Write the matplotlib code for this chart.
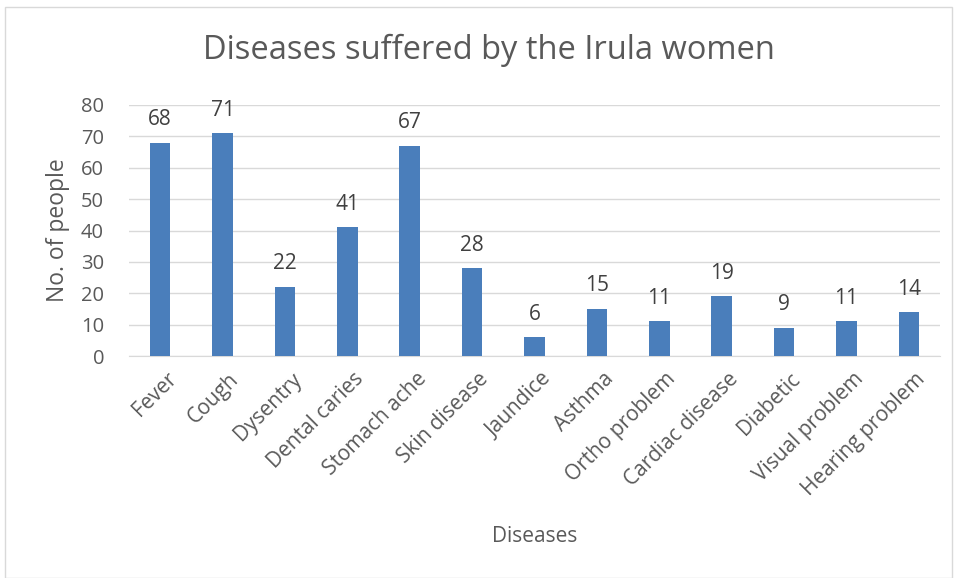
import matplotlib
matplotlib.use("Agg")
import matplotlib.pyplot as plt
import matplotlib.transforms as mtransforms
from matplotlib.patches import Rectangle

categories = ["Fever", "Cough", "Dysentry", "Dental caries", "Stomach ache",
              "Skin disease", "Jaundice", "Asthma", "Ortho problem",
              "Cardiac disease", "Diabetic", "Visual problem", "Hearing problem"]
values = [68, 71, 22, 41, 67, 28, 6, 15, 11, 19, 9, 11, 14]
yticks = [0, 10, 20, 30, 40, 50, 60, 70, 80]

plt.rcParams['font.family'] = ['Open Sans', 'DejaVu Sans']
txt = "#595959"

fig = plt.figure(figsize=(9.55, 5.78), dpi=100)
W, H = 955, 578
ax = fig.add_axes([129 / W, 1 - 356 / H, (940 - 129) / W, (356 - 105) / H])

x = list(range(len(categories)))
bars = ax.bar(x, values, width=0.33, color="#4A7EBB", zorder=3)
for xi, v in zip(x, values):
    ax.text(xi, v + 4, str(v), ha="center", va="bottom", fontsize=15, color="#404040")

ax.set_xlim(-0.5, len(categories) - 0.5)
ax.set_ylim(0, 80)
ax.set_yticks(yticks)
ax.set_yticklabels([str(t) for t in yticks], fontsize=14.5, color=txt)
ax.yaxis.grid(True, color="#D9D9D9", linewidth=1, zorder=0)
ax.tick_params(axis="y", length=0, pad=18)
ax.tick_params(axis="x", length=0, pad=9)
ax.set_xticks(x)
ax.set_xticklabels(categories, rotation=45, ha="right", rotation_mode="anchor",
                   fontsize=15, color=txt)
offset = mtransforms.ScaledTranslation(6 / 100, 0, fig.dpi_scale_trans)
for lab in ax.get_xticklabels():
    lab.set_transform(lab.get_transform() + offset)
for s in ["top", "right", "left"]:
    ax.spines[s].set_visible(False)
ax.spines["bottom"].set_color("#D9D9D9")

ax.set_ylabel("No. of people", fontsize=16.5, color=txt, labelpad=8)
fig.text(535 / W, 1 - 536 / H, "Diseases", ha="center", va="center", fontsize=15, color=txt)
fig.text(489 / W, 1 - 50 / H, "Diseases suffered by the Irula women", ha="center",
         va="center", fontsize=23.5, color=txt)

fig.patches.append(Rectangle((5 / W, 0), (W - 8) / W, 1 - 7 / H, transform=fig.transFigure,
                             fill=False, edgecolor="#D9D9D9", linewidth=1))

fig.savefig("out.png", dpi=100)
